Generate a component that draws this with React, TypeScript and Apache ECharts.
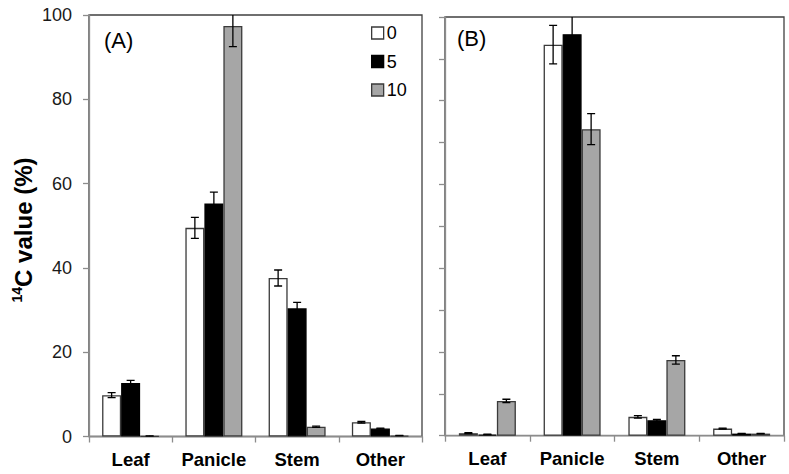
import React, { useEffect, useRef } from "react";
import * as echarts from "echarts";

const categories = ["Leaf", "Panicle", "Stem", "Other"];
const seriesNames = ["0", "5", "10"];

// Panel (A)
const aVal0 = [9.8, 49.5, 37.6, 3.4];
const aErr0 = [0.6, 2.5, 1.9, 0.2];
const aVal5 = [12.7, 55.3, 30.4, 1.9];
const aErr5 = [0.6, 2.7, 1.4, 0.1];
const aVal10 = [0.1, 97.4, 2.3, 0.2];
const aErr10 = [0.05, 4.9, 0.15, 0.05];

// Panel (B)
const bVal0 = [0.6, 93.4, 4.5, 1.7];
const bErr0 = [0.1, 4.6, 0.3, 0.1];
const bVal5 = [0.3, 95.9, 3.7, 0.5];
const bErr5 = [0.05, 4.5, 0.2, 0.05];
const bVal10 = [8.3, 73.2, 18.1, 0.5];
const bErr10 = [0.4, 3.7, 1.0, 0.05];

const yTicksA = [0, 20, 40, 60, 80, 100];

const FONT = "Arial, 'Liberation Sans', sans-serif";
const BAR_W = 19;
const fills = ["#ffffff", "#000000", "#a6a6a6"];
const borders = ["#3a3a3a", "#000000", "#3a3a3a"];

function errorSeries(vals: number[], errs: number[], idx: number, axisIdx: number) {
  const offset = (idx - 1) * BAR_W;
  return {
    type: "custom",
    xAxisIndex: axisIdx,
    yAxisIndex: axisIdx,
    clip: true,
    z: 10,
    silent: true,
    data: vals.map((v, i) => [i, v, errs[i]]),
    renderItem: (params: any, api: any) => {
      const cat = api.value(0);
      const v = api.value(1);
      const e = api.value(2);
      const top = api.coord([cat, v + e]);
      const bot = api.coord([cat, Math.max(0, v - e)]);
      const x = top[0] + offset;
      const cap = 4;
      const style = { stroke: "#000", lineWidth: 1.3 };
      return {
        type: "group",
        children: [
          { type: "line", shape: { x1: x, y1: top[1], x2: x, y2: bot[1] }, style },
          { type: "line", shape: { x1: x - cap, y1: top[1], x2: x + cap, y2: top[1] }, style },
          { type: "line", shape: { x1: x - cap, y1: bot[1], x2: x + cap, y2: bot[1] }, style },
        ],
      };
    },
  };
}

function barSeries(vals: number[], idx: number, axisIdx: number) {
  return {
    type: "bar",
    name: seriesNames[idx],
    xAxisIndex: axisIdx,
    yAxisIndex: axisIdx,
    data: vals,
    barWidth: BAR_W,
    barGap: "0%",
    itemStyle: { color: fills[idx], borderColor: borders[idx], borderWidth: 1.3 },
  };
}

export default function App() {
  const ref = useRef<HTMLDivElement>(null);
  useEffect(() => {
    if (!ref.current) return;
    const chart = echarts.init(ref.current, undefined, { renderer: "svg" });
    const xAxisCommon = {
      type: "category",
      data: categories,
      axisLine: { show: true, lineStyle: { color: "#8c8c8c", width: 1.3 } },
      axisTick: { show: true, length: 6, alignWithLabel: false, interval: 0, lineStyle: { color: "#8c8c8c", width: 1.3 } },
      axisLabel: { interval: 0, hideOverlap: false, fontSize: 18.5, fontWeight: "bold", color: "#000", fontFamily: FONT, margin: 13 },
      splitLine: { show: false },
    };
    chart.setOption({
      animation: false,
      grid: [
        { left: 89, right: 367, top: 15, bottom: 37.5, show: true, borderColor: "#404040", borderWidth: 1.3, backgroundColor: "transparent" },
        { left: 445, right: 5, top: 17, bottom: 38.3, show: true, borderColor: "#404040", borderWidth: 1.3, backgroundColor: "transparent" },
      ],
      xAxis: [
        { ...xAxisCommon, gridIndex: 0 },
        { ...xAxisCommon, gridIndex: 1 },
      ],
      yAxis: [
        {
          type: "value",
          gridIndex: 0,
          min: yTicksA[0],
          max: yTicksA[yTicksA.length - 1],
          interval: 20,
          axisLine: { show: true, lineStyle: { color: "#8c8c8c", width: 1.3 } },
          axisTick: { show: true, length: 6, lineStyle: { color: "#8c8c8c", width: 1.3 } },
          axisLabel: { fontSize: 18, color: "#1a1a1a", fontFamily: FONT, margin: 17 },
          splitLine: { show: false },
        },
        {
          type: "value",
          gridIndex: 1,
          min: 0,
          max: 100,
          interval: 10,
          axisLine: { show: true, lineStyle: { color: "#8c8c8c", width: 1.3 } },
          axisTick: { show: true, length: 6, lineStyle: { color: "#8c8c8c", width: 1.3 } },
          axisLabel: { show: false },
          splitLine: { show: false },
        },
      ],
      legend: {
        left: 366,
        top: 19,
        orient: "vertical",
        itemWidth: 12,
        itemHeight: 12,
        itemGap: 10.5,
        icon: "rect",
        textStyle: { fontSize: 18, color: "#000", fontFamily: FONT, padding: [0, 0, 0, -2] },
        data: seriesNames.map((n, i) => ({
          name: n,
          itemStyle: { color: fills[i], borderColor: borders[i], borderWidth: 1.3 },
        })),
      },
      graphic: [
        { type: "text", left: 104, top: 29, style: { text: "(A)", fontSize: 22, fill: "#000", fontFamily: FONT } },
        { type: "text", left: 457, top: 27, style: { text: "(B)", fontSize: 22, fill: "#000", fontFamily: FONT } },
        {
          type: "text",
          x: 23,
          y: 230,
          rotation: Math.PI / 2,
          style: {
            text: "{s|14}{b|C value (%)}",
            align: "center",
            verticalAlign: "middle",
            fill: "#000",
            rich: {
              s: { fontSize: 14, fontWeight: "bold", fontFamily: FONT, verticalAlign: "top", lineHeight: 26 },
              b: { fontSize: 24, fontWeight: "bold", fontFamily: FONT, lineHeight: 26 },
            },
          },
        },
      ],
      series: [
        barSeries(aVal0, 0, 0),
        barSeries(aVal5, 1, 0),
        barSeries(aVal10, 2, 0),
        barSeries(bVal0, 0, 1),
        barSeries(bVal5, 1, 1),
        barSeries(bVal10, 2, 1),
        errorSeries(aVal0, aErr0, 0, 0),
        errorSeries(aVal5, aErr5, 1, 0),
        errorSeries(aVal10, aErr10, 2, 0),
        errorSeries(bVal0, bErr0, 0, 1),
        errorSeries(bVal5, bErr5, 1, 1),
        errorSeries(bVal10, bErr10, 2, 1),
      ],
    });
    return () => chart.dispose();
  }, []);
  return (
    <div
      ref={ref}
      style={{ position: "fixed", left: 0, top: 0, width: 789, height: 474, background: "#fff" }}
    />
  );
}
